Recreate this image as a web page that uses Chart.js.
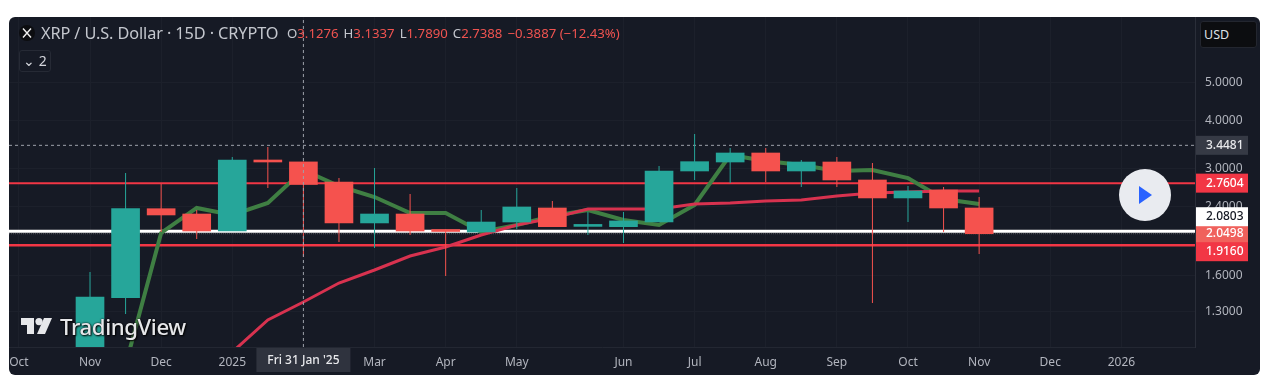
<!DOCTYPE html>
<html>
<head>
<meta charset="utf-8">
<title>XRP / U.S. Dollar</title>
<script src="https://cdn.jsdelivr.net/npm/chart.js@4"></script>
<style>
  html, body { margin: 0; background: #fff; }
  #wrap { position: relative; width: 1280px; height: 392px; overflow: hidden; font-family: "Noto Sans", sans-serif; }
  canvas { position: absolute; left: 0; top: 0; }
  .abs { position: absolute; white-space: nowrap; }
  .title { left: 41px; top: 23px; font-size: 16.3px; line-height: 21px; color: #c4c7ce; letter-spacing: -0.1px; }
  .ohlc { left: 287px; top: 25px; font-size: 13.2px; line-height: 17px; color: #c4c7ce; }
  .ohlc b { font-weight: 400; color: #ef5350; margin-right: 5px; }
  .collapse { left: 19px; top: 50px; width: 30px; height: 20px; border: 1px solid #262a35; border-radius: 3px; color: #d4d6dc; font-size: 14px; line-height: 20px; text-align: center; }
  .usd { left: 1200px; top: 21px; width: 55px; height: 25px; background: #0c0d10; border: 1px solid #23262f; border-radius: 3px; color: #dfe1e6; font-size: 12.5px; line-height: 25px; text-indent: 3px; box-sizing: content-box; }
  .logo { left: 21px; top: 318px; }
  .brand { left: 60px; top: 312px; font-size: 22.2px; line-height: 29px; font-weight: 500; color: #e6e7ea; letter-spacing: -0.4px; text-shadow: 0 0 2px #000, 1px 1px 2px #000; }
  .play { left: 1119px; top: 169px; width: 52px; height: 52px; border-radius: 50%; background: #e9ebf0; }
</style>
</head>
<body>
<div id="wrap">
  <canvas id="myChart" width="1280" height="392"></canvas>
  <svg class="abs" style="left:19px;top:25px" width="16" height="16" viewBox="0 0 16 16">
    <circle cx="8" cy="8" r="8" fill="#0c0d10"/>
    <path d="M4 3.5 L12 12.5 M12 3.5 L4 12.5" stroke="#f0f0f0" stroke-width="1.4"/>
  </svg>
  <div class="abs title">XRP / U.S. Dollar · 15D · CRYPTO</div>
  <div class="abs ohlc">O<b>3.1276</b>H<b>3.1337</b>L<b>1.7890</b>C<b>2.7388</b><b>−0.3887 (−12.43%)</b></div>
  <div class="abs collapse">⌄ 2</div>
  <div class="abs usd">USD</div>
  <svg class="abs logo" width="32" height="16" viewBox="0 0 32 16">
    <path d="M0 0 H13 V16 H6 V7 H0 Z" fill="#e6e7ea"/>
    <circle cx="18" cy="3.6" r="3.6" fill="#e6e7ea"/>
    <path d="M23 0 H31 L24 16 H16 Z" fill="#e6e7ea"/>
  </svg>
  <div class="abs brand">TradingView</div>
  <div class="abs play"></div>
  <svg class="abs" style="left:1138px;top:186px" width="16" height="18" viewBox="0 0 16 18">
    <path d="M1 0 L14 9 L1 18 Z" fill="#2962ff"/>
  </svg>
</div>
<script>
// candles, x is the 15 day bar number counted from the Oct tick
const bars   = [2,3,4,5,6,7,8,9,10,11,12,13,14,15,16,17,18,19,20,21,22,23,24,25,26,27];
const opens  = [0.976,1.407,2.375,2.302,2.083,3.163,3.1276,2.779,2.184,2.302,2.095,2.071,2.196,2.385,2.140,2.137,2.196,2.965,3.126,3.296,2.965,3.126,2.812,2.530,2.651,2.385];
const highs  = [1.637,2.930,2.747,2.357,3.219,3.415,3.1337,2.845,3.018,2.590,2.108,2.357,2.683,2.485,2.330,2.330,3.053,3.686,3.395,3.395,3.163,3.219,3.108,2.714,2.699,2.544];
const lows   = [0.950,1.279,2.071,1.988,2.083,2.683,1.7890,1.953,1.885,2.035,1.599,2.071,2.108,2.137,2.035,1.941,2.196,2.812,2.763,2.779,2.699,2.699,1.364,2.196,2.071,1.820];
const closes = [1.413,2.375,2.289,2.083,3.163,3.126,2.7388,2.184,2.302,2.083,2.077,2.196,2.399,2.137,2.149,2.210,2.965,3.132,3.296,2.965,3.126,2.812,2.530,2.636,2.385,2.0498];

// moving averages
const fastBars = [3,4,5,6,7,8,9,10,11,12,13,14,15,16,17,18,19,20,21,22,23,24,25,26,27];
const fastMa   = [0.947,2.059,2.385,2.289,2.456,2.982,2.714,2.544,2.316,2.316,2.071,2.158,2.275,2.357,2.222,2.158,2.427,3.258,3.145,3.071,2.965,2.982,2.845,2.515,2.442];
const slowBars = [6,7,8,9,10,11,12,13,14,15,16,17,18,19,20,21,22,23,24,25,26,27];
const slowMa   = [1.022,1.234,1.372,1.534,1.656,1.798,1.896,2.035,2.158,2.249,2.371,2.371,2.371,2.442,2.456,2.485,2.500,2.559,2.605,2.620,2.636,2.636];

// axes
const xMin = -0.278, xMax = 33.07;
const yMin = 1.0527, yMax = 7.336;
const xTicks  = [0,2,4,6,8,10,12,14,17,19,21,23,25,27,29,31];
const xLabels = ['Oct','Nov','Dec','2025',"Fri 31 Jan '25",'Mar','Apr','May','Jun','Jul','Aug','Sep','Oct','Nov','Dec','2026'];
const yTicks  = [1.3,1.6,2.4,3,4,5];

// horizontal levels and crosshair
const levelRedTop = 2.7604, levelWhite = 2.0803, levelClose = 2.0498, levelRedLow = 1.9160;
const crossBar = 8, crossPrice = 3.4481;

const GREEN = '#26a69a', RED = '#f5524e', LINE_RED = '#f23645';

function hline(value, color, width, dash, order) {
  return { type: 'line', data: [{x: xMin, y: value}, {x: xMax, y: value}], borderColor: color, borderWidth: width,
    borderDash: dash || [], pointRadius: 0, order: order };
}
function pairs(xs, ys) { return xs.map((x, i) => ({x: x, y: ys[i]})); }
const candleColors = opens.map((o, i) => closes[i] >= o ? GREEN : RED);

// price tags on the right axis, some are pushed off their level so they do not overlap
const priceTags = [
  {v: crossPrice,  bg: '#363a45', fg: '#e8e9ec', shift: 0},
  {v: levelRedTop, bg: LINE_RED,  fg: '#ffffff', shift: 0},
  {v: levelClose,  bg: '#f0615c', fg: '#ffffff', shift: 0},
  {v: levelWhite,  bg: '#ffffff', fg: '#131722', shift: -14.5},
  {v: levelRedLow, bg: LINE_RED,  fg: '#ffffff', shift: 6.5}
];

// the axis padding chart.js reserves for edge labels would shrink the plot
function noEdgePadding(axis) {
  axis.paddingLeft = axis.paddingRight = axis.paddingTop = axis.paddingBottom = 0;
}

const panel = {
  id: 'panel',
  beforeDraw(chart) {
    const c = chart.ctx;
    c.save();
    c.fillStyle = '#161a25';
    c.beginPath();
    c.roundRect(9, 17, 1251, 358, 6);
    c.fill();
    c.restore();
  },
  afterDraw(chart) {
    const c = chart.ctx, y = chart.scales.y, x = chart.scales.x;
    c.save();
    c.font = '500 12px "Noto Sans"';
    c.textBaseline = 'middle';
    priceTags.forEach(t => {
      const py = y.getPixelForValue(t.v) + t.shift;
      c.fillStyle = t.bg;
      c.fillRect(1196, py - 9.5, 52, 19);
      c.fillStyle = t.fg;
      c.textAlign = 'left';
      c.fillText(t.v.toFixed(4), 1206, py);
    });
    // date tag under the crosshair
    const px = x.getPixelForValue(crossBar);
    c.fillStyle = '#2f333e';
    c.fillRect(px - 47, 348, 94, 24);
    c.fillStyle = '#e8e9ec';
    c.textAlign = 'center';
    c.fillText(xLabels[xTicks.indexOf(crossBar)], px, 361);
    c.restore();
  }
};

new Chart(document.getElementById('myChart').getContext('2d'), {
  type: 'bar',
  plugins: [panel],
  data: {
    datasets: [
      hline(levelRedTop, LINE_RED, 2, null, 8),
      hline(levelRedLow, LINE_RED, 2.5, null, 8),
      hline(levelWhite, '#ffffff', 3, null, 8),
      hline(levelClose, 'rgba(200,200,200,0.35)', 1, [1, 1], 9),
      hline(crossPrice, '#9da1aa', 1, [3, 3], 9),
      { type: 'line', data: [{x: crossBar, y: yMin}, {x: crossBar, y: yMax}], borderColor: '#9da1aa', borderWidth: 1,
        borderDash: [3, 3], pointRadius: 0, order: 1 },
      { type: 'line', data: pairs(fastBars, fastMa), borderColor: '#3f7f43', borderWidth: 4, pointRadius: 0, tension: 0, order: 6 },
      { type: 'line', data: pairs(slowBars, slowMa), borderColor: '#d8324f', borderWidth: 3, pointRadius: 0, tension: 0, order: 5 },
      // wicks
      { data: bars.map((b, i) => ({x: b, y: [lows[i], highs[i]]})), backgroundColor: candleColors, barThickness: 1, inflateAmount: 0, grouped: false, order: 4 },
      // bodies
      { data: bars.map((b, i) => ({x: b, y: [opens[i], closes[i]]})), backgroundColor: candleColors, barThickness: 28, grouped: false, minBarLength: 2, order: 3 }
    ]
  },
  options: {
    responsive: false,
    animation: false,
    layout: { padding: { left: 9, right: 20, top: 17, bottom: 17 } },
    plugins: { legend: { display: false }, tooltip: { enabled: false } },
    scales: {
      x: {
        type: 'linear', min: xMin, max: xMax, bounds: 'data', offset: false,
        afterBuildTicks(axis) { axis.ticks = xTicks.map(v => ({value: v})); },
        afterFit(axis) { axis.height = 28; noEdgePadding(axis); },
        grid: { color: '#1c202b', drawTicks: false, offset: false },
        border: { color: '#232732' },
        ticks: {
          autoSkip: false, maxRotation: 0, padding: 8, color: '#b2b5be',
          font: { family: '"Noto Sans"', size: 12 },
          callback(v) { return v === crossBar ? '' : xLabels[xTicks.indexOf(v)]; }
        }
      },
      y: {
        type: 'logarithmic', position: 'right', min: yMin, max: yMax, bounds: 'data',
        afterBuildTicks(axis) { axis.ticks = yTicks.map(v => ({value: v})); },
        afterFit(axis) { axis.width = 65; noEdgePadding(axis); },
        grid: { color: '#1c202b', drawTicks: false },
        border: { color: '#2a2e39' },
        ticks: {
          autoSkip: false, padding: 10, color: '#b2b5be',
          font: { family: '"Noto Sans"', size: 12 },
          callback(v) { return v.toFixed(4); }
        }
      }
    }
  }
});
</script>
</body>
</html>
